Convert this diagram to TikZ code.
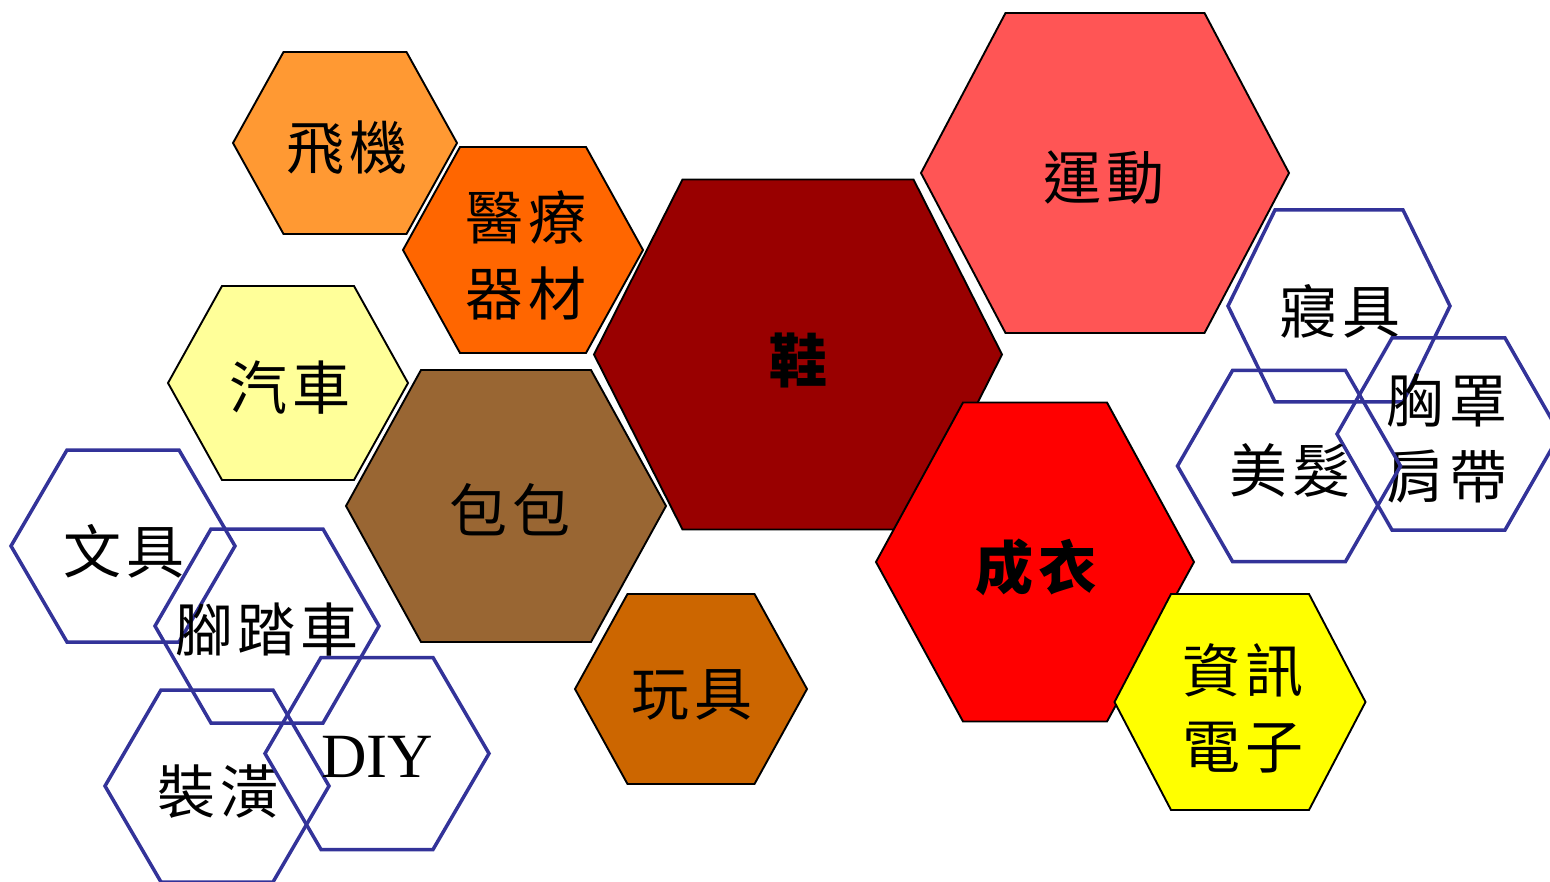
\documentclass[tikz,border=0pt]{standalone}
\usepackage{fontspec}
\newfontfamily\cjk[LetterSpace=8]{Noto Sans CJK TC}
\newfontfamily\latin{Liberation Serif}
\definecolor{planeorange}{HTML}{FF9933}
\definecolor{medorange}{HTML}{FF6600}
\definecolor{carcream}{HTML}{FFFF99}
\definecolor{bagbrown}{HTML}{996633}
\definecolor{toyorange}{HTML}{CC6600}
\definecolor{shoered}{HTML}{990000}
\definecolor{sportred}{HTML}{FF5555}
\definecolor{clothred}{HTML}{FF0000}
\definecolor{infoyellow}{HTML}{FFFF00}
\definecolor{ringblue}{HTML}{333399}
% hexagon: [style]{cx}{cy}{half width}{half height}{half top edge}
\newcommand\hexcell[6][]{\draw[#1]({#2-#4},#3)--({#2-#6},{#3-#5})--({#2+#6},{#3-#5})
--({#2+#4},#3)--({#2+#6},{#3+#5})--({#2-#6},{#3+#5})--cycle;}

\begin{document}
\begin{tikzpicture}[x=1pt,y=-1pt,
cell/.style={draw=black,line width=1.9pt},
ring/.style={draw=ringblue,line width=3.5pt},
lbl/.style={font=\cjk\fontsize{58}{76}\selectfont,align=center,inner sep=0pt}]
\useasboundingbox(0,0)rectangle(1550,882);
% filled cells
\hexcell[cell,fill=planeorange]{345}{143}{112}{91}{61.5}
\node[lbl](feiji)at(347,148){飛機};
\hexcell[cell,fill=medorange]{523}{250}{120}{103}{63}
\node[lbl](yiliao)at(526,255){醫療\\器材};
\hexcell[cell,fill=carcream]{288}{383}{120}{97}{66}
\node[lbl](qiche)at(290,388){汽車};
\hexcell[cell,fill=bagbrown]{506}{506}{160}{136}{85}
\node[lbl](baobao)at(510,510){包包};
\hexcell[cell,fill=toyorange]{691}{689}{116}{95}{63.5}
\node[lbl](wanju)at(692,695){玩具};
\hexcell[cell,fill=shoered]{798}{354.5}{204}{175}{115.5}
\node[lbl,font=\cjk\bfseries\fontsize{58}{76}\selectfont](xie)at(798,360){鞋};
\hexcell[cell,fill=sportred]{1105}{173}{184}{160}{99.5}
\node[lbl](yundong)at(1104,178){運動};
\hexcell[cell,fill=clothred]{1035}{562}{159}{159.5}{72}
\node[lbl,font=\cjk\bfseries\fontsize{58}{76}\selectfont](chengyi)at(1036,567){成衣};
\hexcell[cell,fill=infoyellow]{1240}{702}{125.5}{108}{69}
\node[lbl](zixun)at(1243,708){資訊\\電子};
% open rings
\hexcell[ring]{1339}{306}{111}{96}{64}
\node[lbl](qinju)at(1340,311){寢具};
\hexcell[ring]{1448.5}{434}{111.5}{96}{56.5}
\node[lbl](xiongzhao)at(1447,438){胸罩\\肩帶};
\hexcell[ring]{1289}{466}{111.5}{95.5}{56.5}
\node[lbl](meifa)at(1290,470){美髮};
\hexcell[ring]{123}{546}{112}{96}{56}
\node[lbl](wenju)at(124,551){文具};
\hexcell[ring]{267}{626}{112}{97}{56}
\node[lbl](jiaotache)at(267,630){腳踏車};
\hexcell[ring]{217}{786}{112}{96}{56}
\node[lbl](zhuanghuang)at(218,792){裝潢};
\hexcell[ring]{377}{753.5}{112}{96}{56}
\node[lbl,font=\latin\fontsize{63}{76}\selectfont](diy)at(377,757){DIY};
\end{tikzpicture}
\end{document}
